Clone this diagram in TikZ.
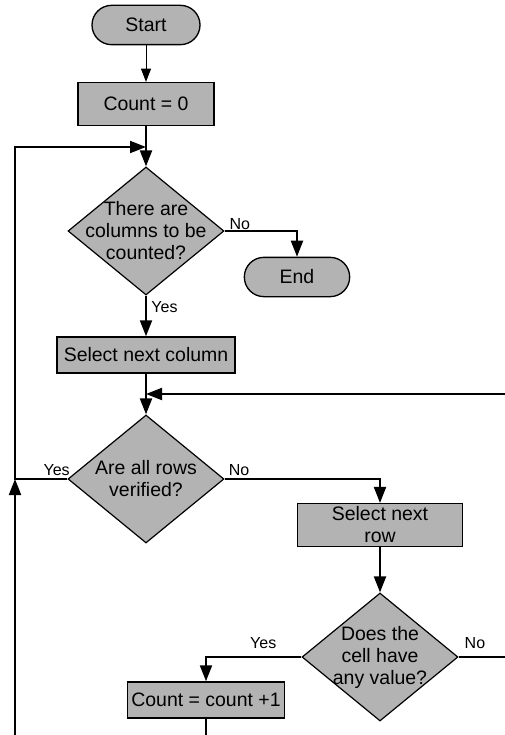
\documentclass[tikz,border=0pt]{standalone}
\usepackage{fontspec}
\setmainfont{Liberation Sans}
\usepackage{xcolor}
\usetikzlibrary{shapes.geometric, arrows.meta, positioning}
\definecolor{boxgray}{RGB}{179,179,179}

\begin{document}
\begin{tikzpicture}[node distance=93pt, auto, x=0.75pt, y=-0.75pt]
    % Styles
    \tikzset{
        term/.style     = {rectangle, draw, fill=boxgray, line width=1pt, rounded corners=14.7pt, minimum height=29.5pt, font=\fontsize{14.6pt}{16.5pt}\selectfont},
        process/.style  = {rectangle, draw, fill=boxgray, line width=1.1pt, inner sep=1pt, align=center, minimum height=27pt, font=\fontsize{14.6pt}{16.5pt}\selectfont},
        decision/.style = {diamond, draw, fill=boxgray, line width=0.9pt, inner sep=0pt, minimum width=117pt, minimum height=96pt},
        dtext/.style    = {align=center, font=\fontsize{14.6pt}{16.5pt}\selectfont},
        tag/.style      = {font=\fontsize{12pt}{14pt}\selectfont},
        line/.style     = {draw, line width=1.5pt, -{Triangle[length=12pt, width=9pt]}},
        thinline/.style = {draw, line width=0.75pt, -{Triangle[length=10pt, width=7.5pt]}}
    }

    \useasboundingbox (0,0) rectangle (505,735);
    \clip (0,0) rectangle (505,735);

    % Main column
    \node [term, minimum width=81pt] at (146,25) (start) {Start};
    \node [process, below of=start, yshift=33.75pt, minimum width=102pt, minimum height=32pt] (count0) {Count = 0};
    \node [decision, below of=count0, yshift=-2.25pt, label={[dtext]center:There are\\columns to be\\counted?}] (dia1) {};
    \node [term, right of=dia1, xshift=20.25pt, yshift=-34.5pt, minimum width=79pt] (end) {End};
    \node [process, below of=dia1, minimum width=133.5pt] (selcol) {Select next column};
    \node [decision, below of=selcol, label={[dtext]center:Are all rows\\verified?}] (dia2) {};

    % Row loop
    \node [process, right of=dia2, xshift=82.5pt, yshift=-34.5pt, minimum width=124pt, minimum height=32pt, inner sep=0pt] (selrow) {Select next\\row};
    \node [decision, below of=selrow, yshift=-6pt, label={[dtext]center:Does the\\cell have\\any value?}] (dia3) {};
    \node [process, left of=dia3, xshift=-37.5pt, yshift=-32.25pt, minimum width=118pt] (countinc) {Count = count +1};

    % Junctions and rails
    \coordinate (join1) at (146,147);
    \coordinate (join2) at (146,394);
    \coordinate (rail) at (15,479);
    \coordinate (railB) at (15,760);
    \coordinate (railR) at (525,657);

    % Connections
    \path [thinline] (start) -- (count0);
    \path [line] (count0) -- (dia1);
    \path [line] (dia1.east) -| node [tag, pos=0, anchor=south west, inner sep=0pt, xshift=3pt, yshift=0.5pt] {No} (end);
    \path [line] (dia1.south) -- node [tag, pos=0, below right] {Yes} (selcol);
    \path [line] (selcol) -- (dia2);
    \path [line] (dia2.west) -- node [tag, pos=0, anchor=south east, inner sep=0pt, xshift=2.5pt, yshift=2pt] {Yes} (rail) |- (join1);
    \path [line] (dia2.east) -| node [tag, pos=0, anchor=south west, inner sep=0pt, xshift=2.5pt, yshift=2pt] {No} (selrow);
    \path [line] (selrow) -- (dia3);
    \path [line] (dia3.west) -| node [tag, pos=0.2, above, yshift=2.5pt] {Yes} (countinc);
    \path [line] (dia3.east) -- node [tag, pos=0, anchor=south west, xshift=0.5pt, yshift=2.5pt] {No} (railR) |- (join2);
    \path [line] (countinc.south) |- (railB) -- (rail);
\end{tikzpicture}
\end{document}
